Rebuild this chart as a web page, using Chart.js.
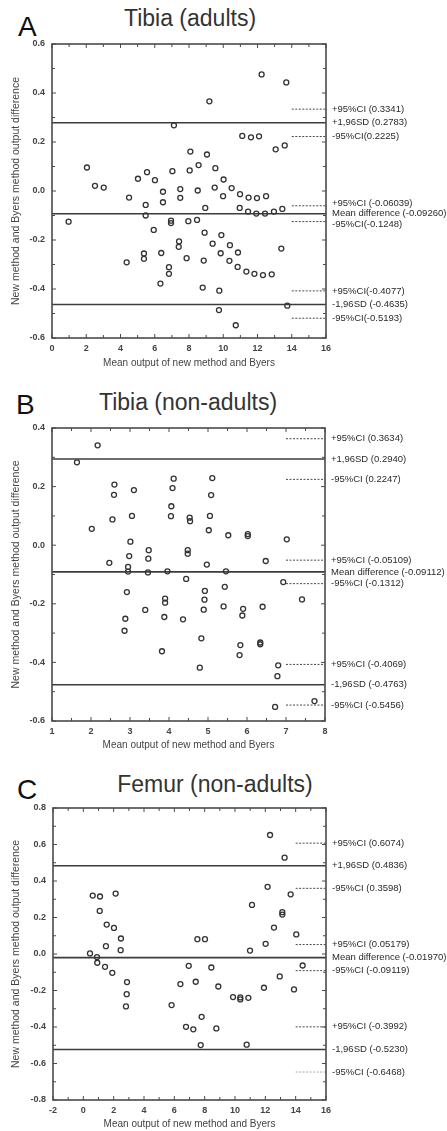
<!DOCTYPE html>
<html>
<head>
<meta charset="utf-8">
<script src="https://cdn.jsdelivr.net/npm/chart.js@4.4.1/dist/chart.umd.min.js"></script>
<style>
  html, body { margin: 0; padding: 0; background: #fff; }
  body { width: 447px; height: 1131px; position: relative; overflow: hidden;
         font-family: "Liberation Sans", Arial, sans-serif; }
  .panel { position: absolute; left: 0; width: 447px; }
  .panel canvas { position: absolute; left: 0; top: 0; }
  .letter { position: absolute; font-size: 28px; line-height: 1; color: #111; }
  .title { position: absolute; font-size: 23px; line-height: 1; color: #333;
           white-space: nowrap; transform: translateX(-50%); }
</style>
</head>
<body>

<div class="letter" style="left:18px; top:13px;">A</div>
<div class="title" style="left:190px; top:7px;">Tibia (adults)</div>
<div class="panel" style="top:0px; height:378px;"><canvas id="chartA" width="447" height="378"></canvas></div>

<div class="letter" style="left:16px; top:391px;">B</div>
<div class="title" style="left:188px; top:391px;">Tibia (non-adults)</div>
<div class="panel" style="top:378px; height:377px;"><canvas id="chartB" width="447" height="377"></canvas></div>

<div class="letter" style="left:17px; top:776px;">C</div>
<div class="title" style="left:215px; top:773px;">Femur (non-adults)</div>
<div class="panel" style="top:755px; height:376px;"><canvas id="chartC" width="447" height="376"></canvas></div>

<script>
// ---- data: Tibia (adults) ----
const tibiaAdultX = [0.97, 2.04, 2.51, 3.02, 4.36, 4.50, 5.02, 5.37, 5.37, 5.47, 5.47, 5.55, 5.94, 6.01,
  6.33, 6.38, 6.48, 6.48, 6.83, 6.83, 6.95, 6.95, 7.03, 7.12, 7.42, 7.40, 7.49, 7.49, 7.86, 7.96,
  8.04, 8.08, 8.47, 8.51, 8.56, 8.80, 8.86, 8.91, 8.95, 9.05, 9.19, 9.38, 9.50, 9.54, 9.77, 9.75,
  9.85, 9.89, 9.99, 10.02, 10.36, 10.39, 10.49, 10.73, 10.84, 10.86, 10.96, 10.98, 11.11, 11.35,
  11.45, 11.48, 11.62, 11.82, 11.93, 11.97, 12.09, 12.24, 12.32, 12.44, 12.50, 12.83, 12.96, 13.06,
  13.39, 13.45, 13.59, 13.68, 13.74];
const tibiaAdultY = [-0.125, 0.096, 0.021, 0.014, -0.291, -0.027, 0.050, -0.255, -0.277, -0.057, -0.100, 0.077, -0.159, 0.044,
  -0.378, -0.253, -0.003, -0.046, -0.311, -0.338, -0.121, -0.131, 0.081, 0.268, -0.206, -0.228, 0.008, -0.028, -0.274, -0.123,
  0.084, 0.161, -0.118, 0.002, 0.106, -0.394, -0.284, -0.170, -0.069, 0.149, 0.366, -0.215, 0.014, 0.093, -0.407, -0.486,
  -0.254, -0.180, -0.021, 0.047, -0.285, -0.221, 0.012, -0.548, -0.310, -0.251, -0.069, -0.013, 0.225, -0.329,
  -0.084, -0.027, 0.219, -0.338, -0.092, -0.029, 0.223, 0.476, -0.343, -0.092, -0.021, -0.340, -0.084, 0.170,
  -0.235, -0.073, 0.186, 0.443, -0.468];
const tibiaAdultLevels = [0.3341, 0.2783, 0.2225, -0.06039, -0.09260, -0.1248, -0.4077, -0.4635, -0.5193];
const tibiaAdultLevelText = ["+95%CI (0.3341)", "+1,96SD (0.2783)", "-95%CI(0.2225)",
  "+95%CI (-0.06039)", "Mean difference (-0.09260)", "-95%CI(-0.1248)",
  "+95%CI(-0.4077)", "-1,96SD (-0.4635)", "-95%CI(-0.5193)"];
const tibiaAdultXTicks = [0, 2, 4, 6, 8, 10, 12, 14, 16];
const tibiaAdultYTicks = [-0.6, -0.4, -0.2, 0.0, 0.2, 0.4, 0.6];

// ---- data: Tibia (non-adults) ----
const tibiaChildX = [1.64, 2.17, 2.02, 2.47, 2.55, 2.59, 2.60, 2.86, 2.88, 2.92, 2.95, 2.95, 2.98, 3.01,
  3.05, 3.10, 3.39, 3.47, 3.48, 3.46, 3.82, 3.88, 3.90, 3.90, 3.96, 4.05, 4.06, 4.09, 4.12, 4.36,
  4.44, 4.48, 4.48, 4.53, 4.54, 4.79, 4.83, 4.89, 4.91, 4.92, 4.97, 5.02, 5.05, 5.08, 5.11, 5.40,
  5.43, 5.46, 5.52, 5.81, 5.83, 5.88, 5.90, 6.02, 6.02, 6.34, 6.34, 6.40, 6.48, 6.72, 6.78, 6.80,
  6.93, 7.02, 7.41, 7.73];
const tibiaChildY = [0.283, 0.341, 0.056, -0.060, 0.088, 0.172, 0.207, -0.292, -0.251, -0.160, -0.074, -0.090, -0.037, 0.012,
  0.100, 0.188, -0.221, -0.046, -0.017, -0.093, -0.362, -0.245, -0.182, -0.196, -0.089, 0.099, 0.133, 0.195, 0.227, -0.253,
  -0.115, -0.017, -0.029, 0.094, 0.082, -0.418, -0.318, -0.220, -0.186, -0.156, -0.066, 0.051, 0.100, 0.171, 0.229, -0.209,
  -0.142, -0.089, 0.034, -0.375, -0.341, -0.240, -0.217, 0.038, 0.031, -0.338, -0.332, -0.210, -0.054, -0.552, -0.447, -0.410,
  -0.126, 0.020, -0.185, -0.532];
const tibiaChildLevels = [0.3634, 0.2940, 0.2247, -0.05109, -0.09112, -0.1312, -0.4069, -0.4763, -0.5456];
const tibiaChildLevelText = ["+95%CI (0.3634)", "+1,96SD (0.2940)", "-95%CI (0.2247)",
  "+95%CI (-0.05109)", "Mean difference (-0.09112)", "-95%CI (-0.1312)",
  "+95%CI (-0.4069)", "-1,96SD (-0.4763)", "-95%CI (-0.5456)"];
const tibiaChildXTicks = [1, 2, 3, 4, 5, 6, 7, 8];
const tibiaChildYTicks = [-0.6, -0.4, -0.2, 0.0, 0.2, 0.4];

// ---- data: Femur (non-adults) ----
const femurChildX = [0.44, 0.62, 0.90, 0.92, 1.10, 1.08, 1.43, 1.49, 1.54, 1.91, 2.02, 2.13, 2.48, 2.46,
  2.88, 2.86, 2.81, 5.82, 6.40, 6.77, 6.95, 7.25, 7.41, 7.52, 7.74, 7.80, 8.02, 8.44, 8.77, 8.90,
  9.87, 10.35, 10.35, 10.77, 10.88, 10.99, 11.12, 11.91, 12.02, 12.15, 12.31, 12.57, 12.95, 13.12,
  13.12, 13.27, 13.67, 13.89, 14.04, 14.46];
const femurChildY = [0.003, 0.320, -0.017, -0.048, 0.315, 0.236, -0.070, 0.043, 0.161, -0.103, 0.143, 0.331, 0.085, 0.021,
  -0.154, -0.220, -0.287, -0.280, -0.165, -0.399, -0.065, -0.413, -0.152, 0.081, -0.499, -0.344, 0.081, -0.074, -0.408, -0.178,
  -0.236, -0.238, -0.249, -0.497, -0.240, 0.019, 0.269, -0.185, 0.056, 0.368, 0.652, 0.145, -0.123, 0.229,
  0.216, 0.528, 0.327, -0.194, 0.107, -0.063];
const femurChildLevels = [0.6074, 0.4836, 0.3598, 0.05179, -0.01970, -0.09119, -0.3992, -0.5230, -0.6468];
const femurChildLevelText = ["+95%CI (0.6074)", "+1,96SD (0.4836)", "-95%CI (0.3598)",
  "+95%CI (0.05179)", "Mean difference (-0.01970)", "-95%CI (-0.09119)",
  "+95%CI (-0.3992)", "-1,96SD (-0.5230)", "-95%CI (-0.6468)"];
const femurChildXTicks = [-2, 0, 2, 4, 6, 8, 10, 12, 14, 16];
const femurChildYTicks = [-0.8, -0.6, -0.4, -0.2, 0.0, 0.2, 0.4, 0.6, 0.8];

// which levels are full-width limit lines, the rest are short dashed CI marks
const levelKinds = ["ci", "limit", "ci", "ci", "limit", "ci", "ci", "limit", "ci"];

const INK = "#3c3c3c";
const FONT = "'Liberation Sans', Arial, sans-serif";

// frame + inward tick marks (major and half-step minor) on all four sides
const framePlugin = {
    id: "frame",
    afterDatasetsDraw(chart) {
        const { ctx, chartArea: a, scales: { x, y } } = chart;
        ctx.save();
        ctx.strokeStyle = "#4a4a4a";
        ctx.lineWidth = 1.6;
        ctx.strokeRect(a.left, a.top, a.right - a.left, a.bottom - a.top);
        ctx.lineWidth = 1;
        const marks = (ticks) => {
            const out = [];
            ticks.forEach((t, i) => {
                out.push([t, 4]);
                if (i < ticks.length - 1) out.push([(t + ticks[i + 1]) / 2, 3]);
            });
            return out;
        };
        ctx.beginPath();
        marks(x.ticks.map((t) => t.value)).forEach(([v, len]) => {
            const px = x.getPixelForValue(v);
            ctx.moveTo(px, a.bottom); ctx.lineTo(px, a.bottom - len);
            ctx.moveTo(px, a.top); ctx.lineTo(px, a.top + len);
        });
        marks(y.ticks.map((t) => t.value)).forEach(([v, len]) => {
            const py = y.getPixelForValue(v);
            ctx.moveTo(a.left, py); ctx.lineTo(a.left + len, py);
            ctx.moveTo(a.right, py); ctx.lineTo(a.right - len, py);
        });
        ctx.stroke();
        ctx.restore();
    },
};

// right-hand text for each level, nudged apart where they would overlap
const levelLabelPlugin = {
    id: "levelLabels",
    afterDraw(chart, args, opts) {
        const { ctx, chartArea: a, scales: { y } } = chart;
        const ys = opts.values.map((v) => y.getPixelForValue(v));
        const gap = 10.5;
        for (let k = 0; k < 30; k++) {
            for (let i = 1; i < ys.length; i++) {
                const d = ys[i] - ys[i - 1];
                if (d < gap) {
                    const push = (gap - d) / 2;
                    ys[i - 1] -= push;
                    ys[i] += push;
                }
            }
        }
        ctx.save();
        ctx.fillStyle = "#2a2a2a";
        ctx.font = "9.5px " + FONT;
        ctx.textAlign = "left";
        ctx.textBaseline = "middle";
        opts.texts.forEach((t, i) => ctx.fillText(t, a.right + 6, ys[i]));
        ctx.restore();
    },
};

function makePanel(canvasId, xs, ys, levels, levelText, xTicks, yTicks, box) {
    const xMin = xTicks[0], xMax = xTicks[xTicks.length - 1];
    const el = document.getElementById(canvasId);
    const H = el.height;

    const lineSets = levels.map((v, i) => {
        const isLimit = levelKinds[i] === "limit";
        return {
            data: [{ x: isLimit ? xMin : box.ciStart, y: v }, { x: xMax, y: v }],
            showLine: true,
            borderColor: isLimit ? INK : (box.faint === i ? "#aaa" : "#4a4a4a"),
            borderWidth: isLimit ? 1.6 : 1,
            borderDash: isLimit ? [] : [2, 1.5],
            pointRadius: 0,
            order: 2,
        };
    });

    return new Chart(el, {
        type: "scatter",
        data: {
            datasets: [{
                data: xs.map((x, i) => ({ x: x, y: ys[i] })),
                pointRadius: 2.5,
                pointBorderWidth: 1.3,
                borderColor: "#333",
                backgroundColor: "rgba(0,0,0,0)",
                order: 1,
            }].concat(lineSets),
        },
        options: {
            responsive: false,
            animation: false,
            devicePixelRatio: 1,
            layout: { padding: { left: 0, top: box.top, right: 447 - box.right, bottom: 0 } },
            plugins: {
                legend: { display: false },
                tooltip: { enabled: false },
                levelLabels: { values: levels, texts: levelText },
            },
            scales: {
                x: {
                    type: "linear", min: xMin, max: xMax,
                    afterBuildTicks: (s) => { s.ticks = xTicks.map((v) => ({ value: v })); },
                    afterFit: (s) => { s.height = H - box.bottom; },
                    grid: { display: false, drawTicks: false },
                    border: { display: false },
                    ticks: {
                        autoSkip: false, maxRotation: 0, padding: 5,
                        color: "#444", font: { family: FONT, size: 9, weight: "bold" },
                        callback: (v) => String(v),
                    },
                    title: {
                        display: true, text: "Mean output of new method and Byers",
                        color: "#444", font: { family: FONT, size: 10 },
                        padding: { top: 0, bottom: box.xTitlePad },
                    },
                },
                y: {
                    type: "linear", min: yTicks[0], max: yTicks[yTicks.length - 1],
                    afterBuildTicks: (s) => { s.ticks = yTicks.map((v) => ({ value: v })); },
                    afterFit: (s) => { s.width = box.left; },
                    grid: { display: false, drawTicks: false },
                    border: { display: false },
                    ticks: {
                        autoSkip: false, padding: 7,
                        color: "#444", font: { family: FONT, size: 9, weight: "bold" },
                        callback: (v) => v.toFixed(1),
                    },
                    title: {
                        display: true, text: "New method and Byers method output difference",
                        color: "#444", font: { family: FONT, size: 10.5 },
                        padding: { top: 10, bottom: 0 },
                    },
                },
            },
        },
        plugins: [framePlugin, levelLabelPlugin],
    });
}

makePanel("chartA", tibiaAdultX, tibiaAdultY, tibiaAdultLevels, tibiaAdultLevelText,
    tibiaAdultXTicks, tibiaAdultYTicks,
    { left: 52, right: 326, top: 44, bottom: 338, ciStart: 14, xTitlePad: 9 });
makePanel("chartB", tibiaChildX, tibiaChildY, tibiaChildLevels, tibiaChildLevelText,
    tibiaChildXTicks, tibiaChildYTicks,
    { left: 52, right: 325, top: 50, bottom: 343, ciStart: 7, xTitlePad: 4 });
makePanel("chartC", femurChildX, femurChildY, femurChildLevels, femurChildLevelText,
    femurChildXTicks, femurChildYTicks,
    { left: 53, right: 326, top: 53, bottom: 345, ciStart: 14, xTitlePad: 1, faint: 8 });
</script>
</body>
</html>
